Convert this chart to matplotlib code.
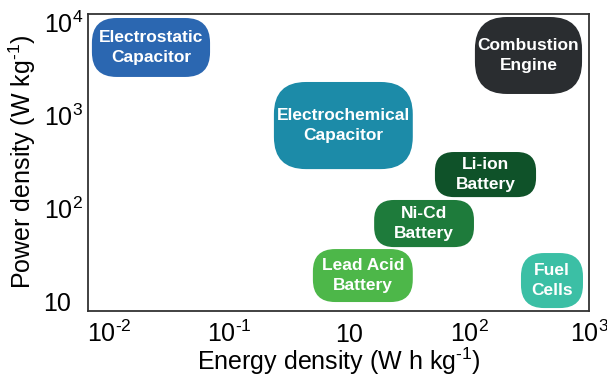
import numpy as np
import matplotlib
matplotlib.use("Agg")
import matplotlib.pyplot as plt
from matplotlib.patches import FancyBboxPatch
from matplotlib.ticker import NullLocator

plt.rcParams['font.family'] = ['Liberation Sans', 'DejaVu Sans']
plt.rcParams['mathtext.fontset'] = 'custom'
plt.rcParams['mathtext.rm'] = 'Liberation Sans'
plt.rcParams['mathtext.it'] = 'Liberation Sans:italic'
plt.rcParams['mathtext.bf'] = 'Liberation Sans:bold'

# technologies and their regions (energy in W h/kg, power in W/kg)
names = ['Electrostatic\nCapacitor', 'Combustion\nEngine', 'Electrochemical\nCapacitor',
         'Li-ion\nBattery', 'Ni-Cd\nBattery', 'Lead Acid\nBattery', 'Fuel\nCells']
energy_min = [0.0072, 112, 0.56, 52, 16.2, 2.5, 271]
energy_max = [0.0695, 875, 34, 362, 110, 34, 891]
power_min = [2565, 1683, 262, 131, 38, 9.75, 8.4]
power_max = [11040, 11320, 2265, 400, 122, 36.2, 32.8]
colors = ['#2b67b1', '#2a2d30', '#1c8ba8', '#0f5229', '#1e7b3b', '#4db749', '#3bbfa5']

xticks = [0.01, 0.1, 10, 100, 1000]
xticklabels = [r'$\mathregular{10^{\text{-}2}}$', r'$\mathregular{10^{\text{-}1}}$', '10',
               r'$\mathregular{10^{2}}$', r'$\mathregular{10^{3}}$']
yticks = [10, 100, 1000, 10000]
yticklabels = ['10', r'$\mathregular{10^{2}}$', r'$\mathregular{10^{3}}$', r'$\mathregular{10^{4}}$']


# the x axis of the original squeezes 0.1..10 into one tick step
def fwd(x):
    lx = np.log10(np.clip(x, 1e-12, None))
    return np.where(lx <= -1, lx + 2, np.where(lx >= 1, lx + 1, 1 + (lx + 1) / 2))


def inv(u):
    u = np.asarray(u, dtype=float)
    return np.where(u <= 1, 10 ** (u - 2), np.where(u >= 2, 10 ** (u - 1), 10 ** (2 * (u - 1) - 1)))


W, H = 607, 378
fig = plt.figure(figsize=(W / 100, H / 100), dpi=100)
ax_l, ax_r, ax_t, ax_b = 88, 589, 14, 311
ax = fig.add_axes([ax_l / W, 1 - ax_b / H, (ax_r - ax_l) / W, (ax_b - ax_t) / H])
aw, ah = ax_r - ax_l, ax_b - ax_t

ax.set_xscale('function', functions=(fwd, inv))
ax.set_yscale('log')
ax.set_xlim(0.00668, 1000)
ax.set_ylim(7.81, 12190)

ax.set_xticks(xticks)
ax.set_xticklabels(xticklabels)
ax.set_yticks(yticks)
ax.set_yticklabels(yticklabels)
ax.xaxis.set_minor_locator(NullLocator())
ax.yaxis.set_minor_locator(NullLocator())
ax.tick_params(length=0, labelsize=18)
ax.tick_params(axis='x', pad=22)
ax.tick_params(axis='y', pad=32)
for lab in ax.get_xticklabels():
    lab.set_verticalalignment('baseline')
for lab in ax.get_yticklabels():
    lab.set_horizontalalignment('left')

for sp in ax.spines.values():
    sp.set_color('#333333')
    sp.set_linewidth(1.3)

to_axes = ax.transData + ax.transAxes.inverted()
for i in range(len(names)):
    (x0, y0), (x1, y1) = to_axes.transform([[energy_min[i], power_min[i]],
                                            [energy_max[i], power_max[i]]])
    wpx, hpx = (x1 - x0) * aw, (y1 - y0) * ah
    r = min(0.42 * min(wpx, hpx), 32) / aw
    box = FancyBboxPatch((x0, y0), x1 - x0, y1 - y0,
                         boxstyle=f'round,pad=0,rounding_size={r}',
                         mutation_aspect=aw / ah, transform=ax.transAxes,
                         facecolor=colors[i], edgecolor='none', zorder=2)
    ax.add_patch(box)
    ax.text((x0 + x1) / 2, (y0 + y1) / 2, names[i], transform=ax.transAxes,
            ha='center', va='center', color='white', fontsize=12.5,
            fontweight='bold', linespacing=1.45, zorder=3)

ax.set_xlabel(r'Energy density (W h kg$^{\text{-}1}$)', fontsize=18)
ax.set_ylabel(r'Power density (W kg$^{\text{-}1}$)', fontsize=18)
ax.xaxis.label.set_verticalalignment('baseline')
ax.yaxis.label.set_verticalalignment('baseline')
ax.xaxis.set_label_coords(0.5, -0.2)
ax.yaxis.set_label_coords(-0.1138, 0.503)

fig.savefig('out.png', dpi=100)
